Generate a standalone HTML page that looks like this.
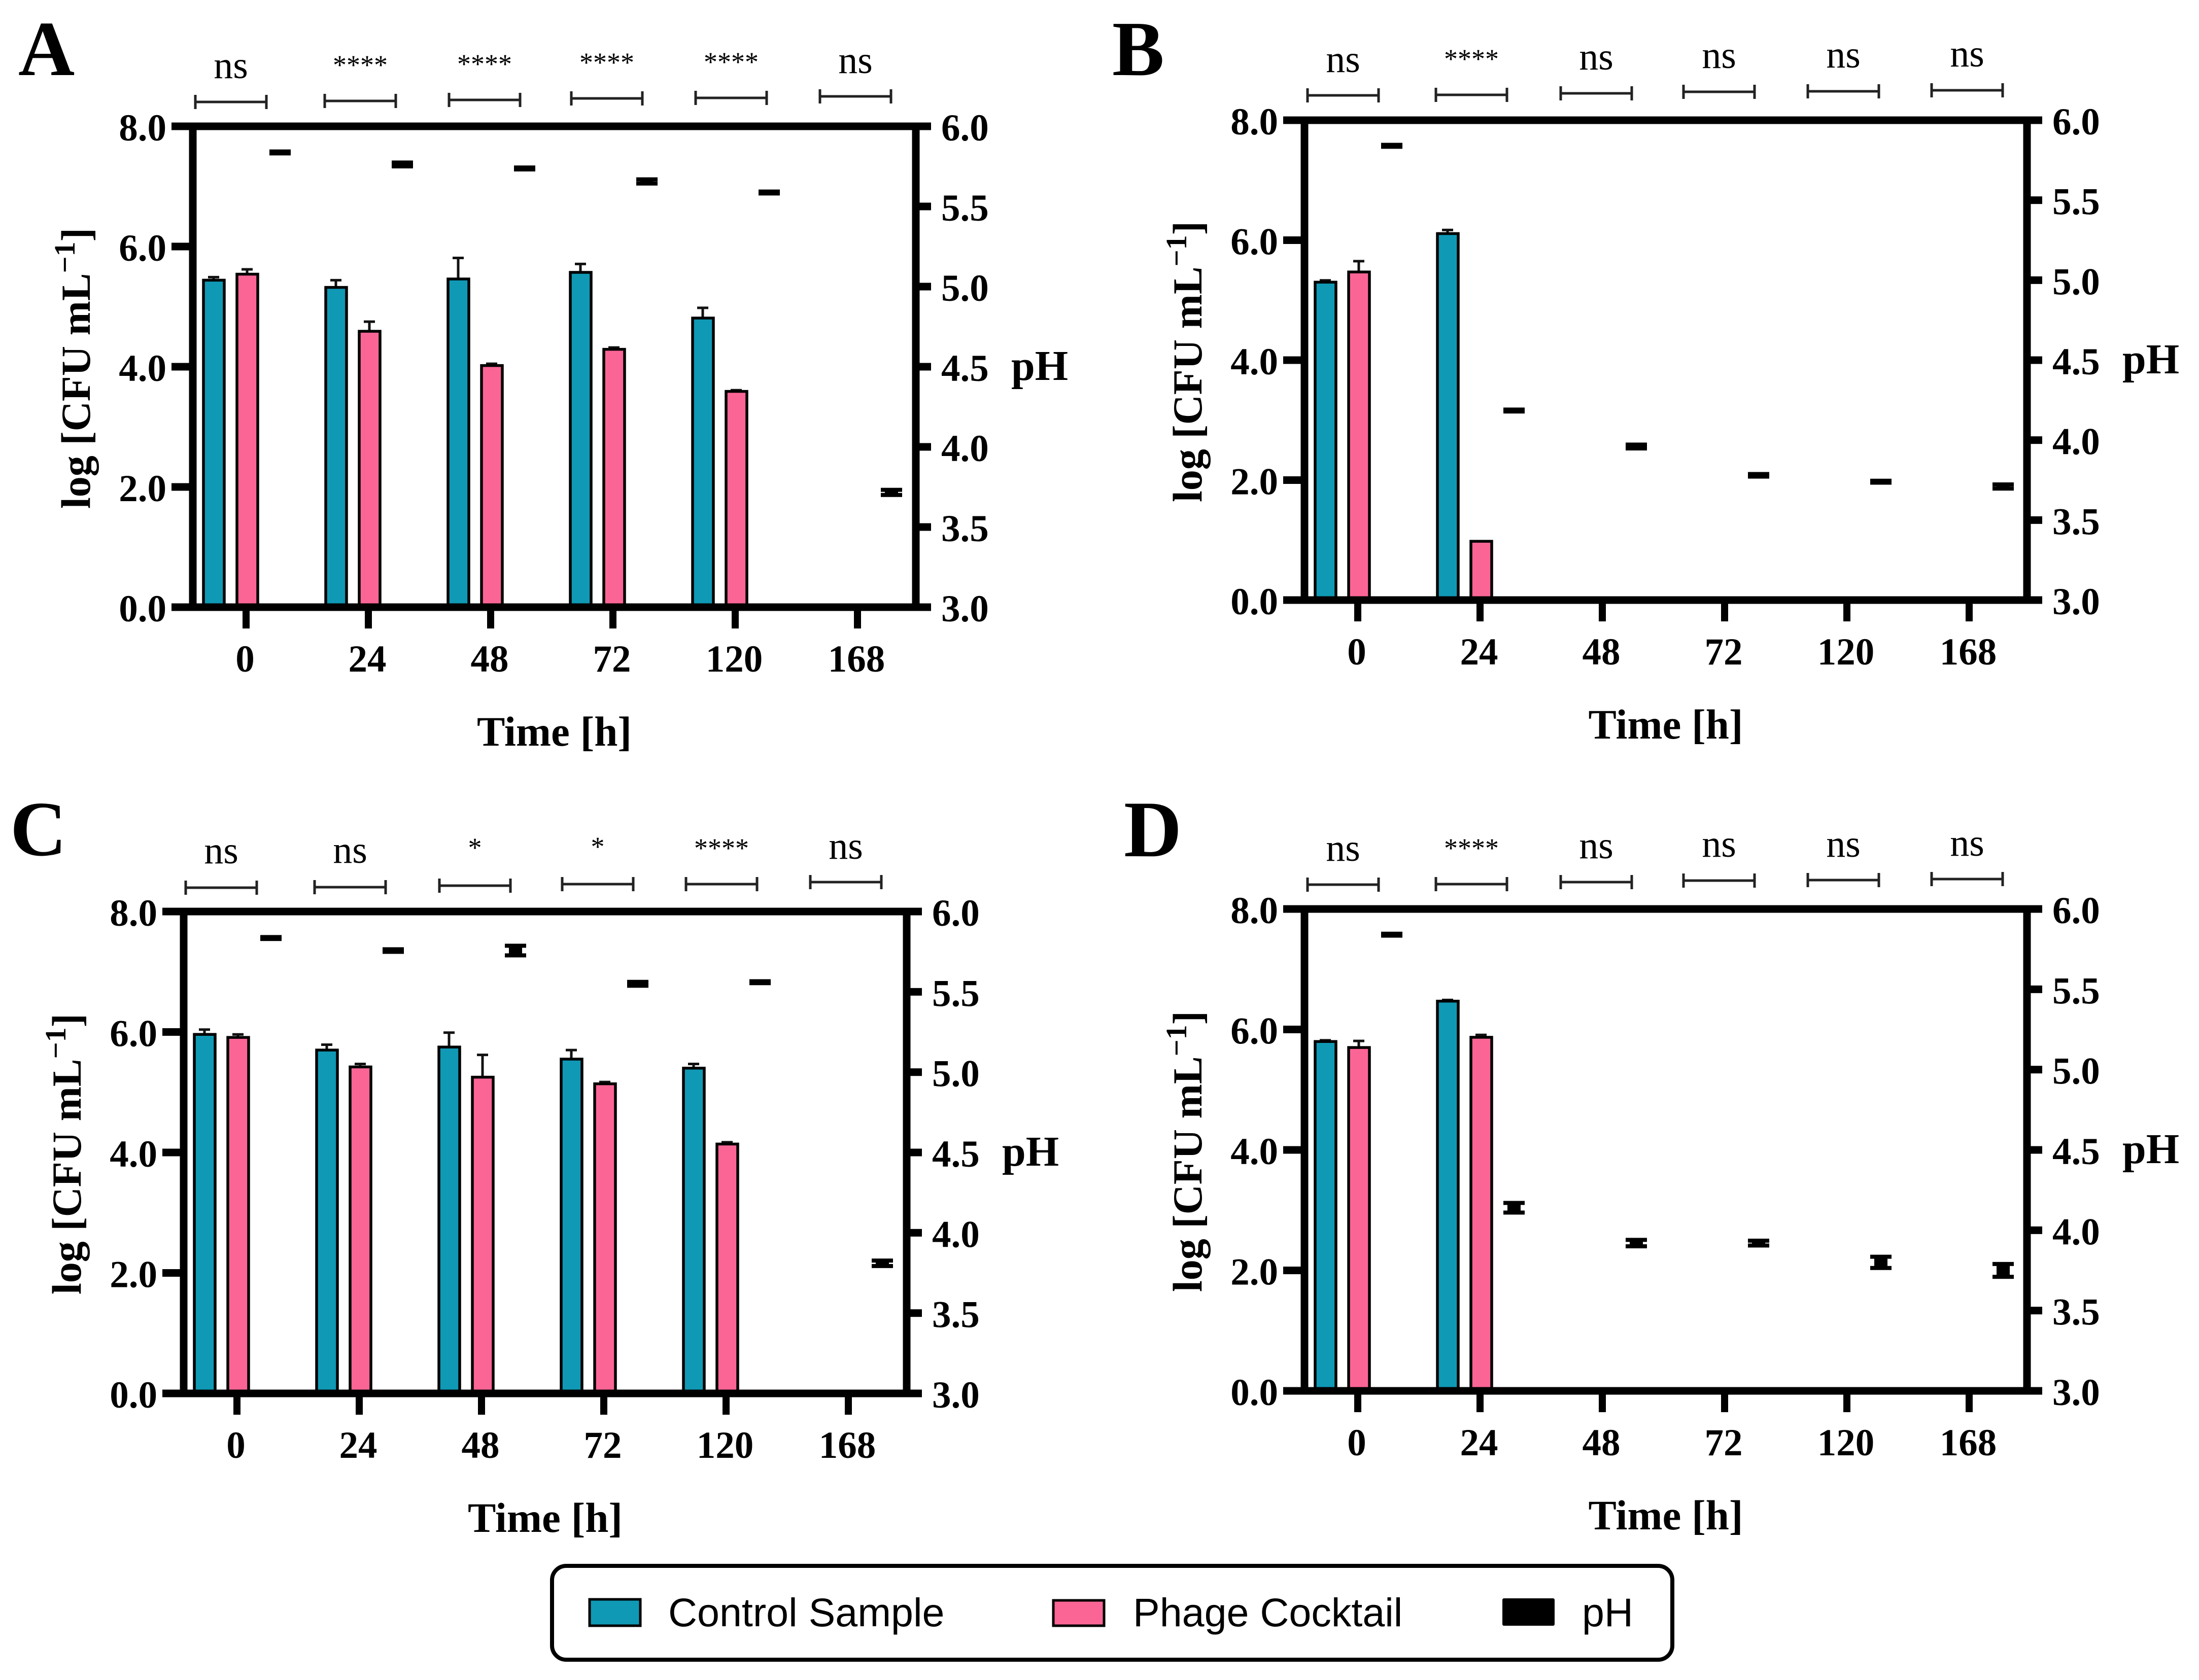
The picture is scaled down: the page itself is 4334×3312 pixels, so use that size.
<!DOCTYPE html>
<html lang="en">
<head>
<meta charset="utf-8">
<title>Bacterial counts and pH over time</title>
<style>
html,body{margin:0;padding:0;background:#fff;width:4334px;height:3312px;overflow:hidden}
svg{display:block}
text{font-family:"Liberation Serif",serif;fill:#000}
.bold{font-weight:700}
</style>
</head>
<body>
<svg id="figure" xmlns="http://www.w3.org/2000/svg" width="4334" height="3312" viewBox="0 0 4334 3312">
  <rect width="4334" height="3312" fill="#fff"/>
  <text class="bold" x="36" y="148" font-size="154">A</text>
  <text class="bold" x="2192" y="148" font-size="154">B</text>
  <text class="bold" x="20" y="1686" font-size="154">C</text>
  <text class="bold" x="2215" y="1688" font-size="158">D</text>

  <g id="legend">
    <rect x="1088" y="3087" width="2208" height="185" rx="28" ry="28" fill="#fff" stroke="#000" stroke-width="8"/>
    <rect x="1162" y="3153" width="100" height="52" fill="#0f99b5" stroke="#000" stroke-width="5"/>
    <text x="1317" y="3206" font-size="79" style="font-family:'Liberation Sans',sans-serif">Control Sample</text>
    <rect x="2076" y="3155" width="100" height="50" fill="#fb6595" stroke="#000" stroke-width="5"/>
    <text x="2233" y="3206" font-size="79" style="font-family:'Liberation Sans',sans-serif">Phage Cocktail</text>
    <rect x="2961" y="3151" width="103" height="54" rx="3" fill="#000"/>
    <text x="3118" y="3206" font-size="79" style="font-family:'Liberation Sans',sans-serif">pH</text>
  </g>
</svg>
<script>
// ---- Shared axis data ----
const timeLabels = ['0', '24', '48', '72', '120', '168'];
const cfuTicks = [0, 2, 4, 6, 8];
const phTicks = [3, 3.5, 4, 4.5, 5, 5.5, 6];

// ---- Panel A ----
const controlA = [5.44, 5.32, 5.46, 5.57, 4.81, null];
const controlErrA = [0.05, 0.12, 0.35, 0.14, 0.17, null];
const phageA = [5.54, 4.59, 4.02, 4.29, 3.59, null];
const phageErrA = [0.08, 0.16, 0.03, 0.03, 0.02, null];
const phA = [5.837, 5.762, 5.737, 5.656, 5.587, 3.716];
const phErrA = [0.006, 0.012, 0.006, 0.013, 0.006, 0.016];
const sigA = ['ns', '****', '****', '****', '****', 'ns'];

// ---- Panel B ----
const controlB = [5.30, 6.11, null, null, null, null];
const controlErrB = [0.03, 0.06, null, null, null, null];
const phageB = [5.47, 0.98, null, null, null, null];
const phageErrB = [0.18, 0, null, null, null, null];
const phB = [5.84, 4.185, 3.96, 3.78, 3.74, 3.71];
const phErrB = [0.006, 0.006, 0.012, 0.008, 0.006, 0.013];
const sigB = ['ns', '****', 'ns', 'ns', 'ns', 'ns'];

// ---- Panel C ----
const controlC = [5.96, 5.70, 5.75, 5.55, 5.40, null];
const controlErrC = [0.08, 0.09, 0.24, 0.15, 0.07, null];
const phageC = [5.91, 5.42, 5.25, 5.14, 4.14, null];
const phageErrC = [0.05, 0.05, 0.37, 0.03, 0.03, null];
const phC = [5.835, 5.757, 5.757, 5.55, 5.56, 3.81];
const phErrC = [0.006, 0.008, 0.03, 0.012, 0.006, 0.017];
const sigC = ['ns', 'ns', '*', '*', '****', 'ns'];

// ---- Panel D ----
const controlD = [5.80, 6.47, null, null, null, null];
const controlErrD = [0.02, 0.02, null, null, null, null];
const phageD = [5.70, 5.87, null, null, null, null];
const phageErrD = [0.11, 0.04, null, null, null, null];
const phD = [5.84, 4.14, 3.92, 3.92, 3.80, 3.75];
const phErrD = [0.006, 0.03, 0.02, 0.015, 0.035, 0.04];
const sigD = ['ns', '****', 'ns', 'ns', 'ns', 'ns'];

const svg = document.getElementById('figure');
const NS = 'http://www.w3.org/2000/svg';
const TEAL = '#0f99b5';
const PINK = '#fb6595';

function make(parent, tag, attrs, content) {
  const node = document.createElementNS(NS, tag);
  for (const k in attrs) node.setAttribute(k, attrs[k]);
  if (content !== undefined) node.textContent = content;
  parent.appendChild(node);
  return node;
}

function drawPanel(frame, d) {
  const g = make(svg, 'g', {});
  
  

  const yCfu = v => frame.bottom - (v / 8) * (frame.bottom - frame.top);
  const yPh = v => frame.bottom - ((v - 3) / 3) * (frame.bottom - frame.top);
  const xTick = i => frame.left + 105 + i * 241;

  // bars with upper error bars
  function bar(i, value, err, dx, color) {
    if (value === null) return;
    const cx = xTick(i) + dx;
    const y = yCfu(value);
    if (err) {
      const yTop = yCfu(value + err);
      const stem = make(g, 'line', {x1: cx, x2: cx, y1: y, y2: yTop, stroke: '#111', 'stroke-width': 5});
      
      
      const cap = make(g, 'line', {x1: cx - 11, x2: cx + 11, y1: yTop, y2: yTop, stroke: '#111', 'stroke-width': 5});
      
      
    }
    const r = make(g, 'rect', {x: cx - 20, y: y, width: 41, height: frame.bottom - y, fill: color, stroke: '#000', 'stroke-width': 5.5});
    
    
  }
  timeLabels.forEach((_, i) => {
    bar(i, d.control[i], d.controlErr[i], -64, TEAL);
    bar(i, d.phage[i], d.phageErr[i], 2, PINK);
  });

  // pH markers
  d.ph.forEach((v, i) => {
    const cx = xTick(i) + 67;
    const yHi = yPh(v + d.phErr[i]);
    const yLo = yPh(v - d.phErr[i]);
    const stem = make(g, 'rect', {x: cx - 13, y: yHi, width: 26, height: yLo - yHi, fill: '#000'});
    
    
    const capHi = make(g, 'rect', {x: cx - 21, y: yHi - 4, width: 42, height: 8, fill: '#000'});
    
    
    const capLo = make(g, 'rect', {x: cx - 21, y: yLo - 4, width: 42, height: 8, fill: '#000'});
    
    
  });

  // frame
  const T = 15;
  const frameTop = make(g, 'rect', {x: frame.left - 42, y: frame.top - T / 2, width: frame.right - frame.left + 72, height: T, fill: '#000'});
  
  
  const frameBottom = make(g, 'rect', {x: frame.left - 42, y: frame.bottom - T / 2, width: frame.right - frame.left + 72, height: T, fill: '#000'});
  
  
  const frameLeft = make(g, 'rect', {x: frame.left - T / 2, y: frame.top, width: T, height: frame.bottom - frame.top, fill: '#000'});
  
  
  const frameRight = make(g, 'rect', {x: frame.right - T / 2, y: frame.top, width: T, height: frame.bottom - frame.top, fill: '#000'});
  
  

  // left axis ticks and labels
  cfuTicks.forEach(v => {
    const y = yCfu(v);
    const t = make(g, 'rect', {x: frame.left - 42, y: y - T / 2, width: 42, height: T, fill: '#000'});
    
    
    const l = make(g, 'text', {x: frame.left - 52, y: y + 28, 'font-size': 75, 'font-weight': 700, 'text-anchor': 'end'}, v.toFixed(1));
    
    
  });

  // right axis ticks and labels
  phTicks.forEach(v => {
    const y = yPh(v);
    const t = make(g, 'rect', {x: frame.right, y: y - T / 2, width: 30, height: T, fill: '#000'});
    
    
    const l = make(g, 'text', {x: frame.right + 50, y: y + 28, 'font-size': 75, 'font-weight': 700}, v.toFixed(1));
    
    
  });

  // x axis ticks and labels
  timeLabels.forEach((label, i) => {
    const x = xTick(i);
    const t = make(g, 'rect', {x: x - 7, y: frame.bottom, width: 14, height: 42, fill: '#000'});
    
    
    const l = make(g, 'text', {x: x - 2, y: frame.bottom + 127, 'font-size': 75, 'font-weight': 700, 'text-anchor': 'middle'}, label);
    
    
  });

  // axis titles
  const mid = (frame.left + frame.right) / 2;
  const xTitle = make(g, 'text', {x: mid, y: frame.bottom + 273, 'font-size': 83, 'font-weight': 700, 'text-anchor': 'middle'}, 'Time [h]');
  
  

  const midY = (frame.top + frame.bottom) / 2;
  const yx = frame.left - 203;
  const yTitle = make(g, 'text', {x: 0, y: 0, 'font-size': 82, 'font-weight': 700, 'text-anchor': 'middle', transform: 'translate(' + yx + ',' + (midY + 3) + ') rotate(-90)'});
  
  
  make(yTitle, 'tspan', {}, 'log [CFU mL');
  make(yTitle, 'tspan', {dy: -30, 'font-size': 58}, '\u22121');
  make(yTitle, 'tspan', {dy: 30}, ']');

  const phTitle = make(g, 'text', {x: frame.right + 188, y: midY + 26, 'font-size': 84, 'font-weight': 700}, 'pH');
  
  

  // significance brackets (positions are figure layout)
  d.sig.forEach((label, i) => {
    const b = frame.brackets[i];
    const bar1 = make(g, 'line', {x1: b[0] - 70, x2: b[0] + 70, y1: b[1], y2: b[1], stroke: '#222', 'stroke-width': 5});
    
    
    const capL = make(g, 'line', {x1: b[0] - 70, x2: b[0] - 70, y1: b[1] - 14, y2: b[1] + 14, stroke: '#222', 'stroke-width': 5});
    
    
    const capR = make(g, 'line', {x1: b[0] + 70, x2: b[0] + 70, y1: b[1] - 14, y2: b[1] + 14, stroke: '#222', 'stroke-width': 5});
    
    
    const isNs = label === 'ns';
    const fs = isNs ? 76 : 54;
    const base = isNs ? b[2] + 18 : b[2] + 25;
    const s = make(g, 'text', {x: b[0], y: base, 'font-size': fs, 'text-anchor': 'middle', fill: '#222'}, label);
    
    
  });
}

drawPanel(
  {left: 380, right: 1805, top: 249, bottom: 1197,
   brackets: [[455, 201, 136], [710, 199, 121], [955, 197, 119], [1196, 194, 116], [1441, 193, 115], [1686, 190, 126]]},
  {control: controlA, controlErr: controlErrA, phage: phageA, phageErr: phageErrA, ph: phA, phErr: phErrA, sig: sigA}
);
drawPanel(
  {left: 2571, right: 3995, top: 237, bottom: 1183,
   brackets: [[2647, 188, 124], [2900, 187, 109], [3146, 184, 119], [3388, 181, 116], [3633, 180, 115], [3877, 178, 113]]},
  {control: controlB, controlErr: controlErrB, phage: phageB, phageErr: phageErrB, ph: phB, phErr: phErrB, sig: sigB}
);
drawPanel(
  {left: 362, right: 1787, top: 1797, bottom: 2747,
   brackets: [[436, 1750, 1684], [690, 1749, 1683], [936, 1746, 1664], [1178, 1743, 1662], [1422, 1743, 1665], [1667, 1739, 1675]]},
  {control: controlC, controlErr: controlErrC, phage: phageC, phageErr: phageErrC, ph: phC, phErr: phErrC, sig: sigC}
);
drawPanel(
  {left: 2571, right: 3995, top: 1792, bottom: 2742,
   brackets: [[2647, 1744, 1679], [2900, 1743, 1665], [3146, 1739, 1674], [3388, 1736, 1671], [3633, 1735, 1671], [3877, 1733, 1669]]},
  {control: controlD, controlErr: controlErrD, phage: phageD, phageErr: phageErrD, ph: phD, phErr: phErrD, sig: sigD}
);
</script>
</body>
</html>
